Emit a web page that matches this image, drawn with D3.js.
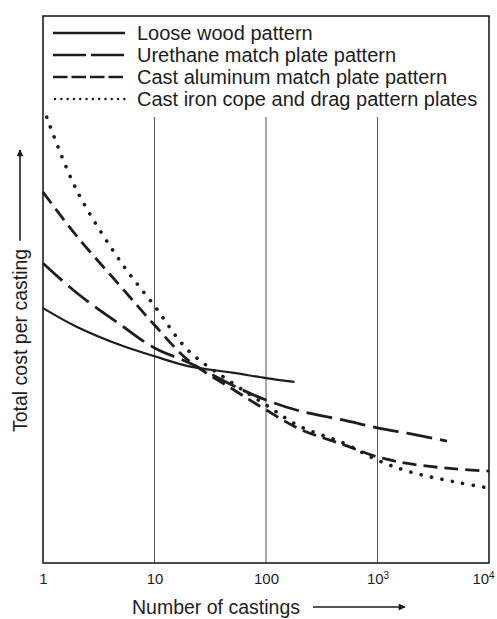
<!DOCTYPE html>
<html>
<head>
<meta charset="utf-8">
<script src="https://cdn.jsdelivr.net/npm/d3@7"></script>
<style>
  body { margin: 0; background: #fff; }
  svg { display: block; font-family: "Liberation Sans", Arial, Helvetica, sans-serif; }
</style>
</head>
<body>
<script>
// values (cost has no units on the original, 0-100 relative)
var counts = [1, 2, 5, 10, 20, 50, 100, 200, 500, 1000, 2000, 5000, 10000];
var woodN = [1, 2, 5, 10, 20, 50, 100, 180];
var woodCost = [46.6, 43.2, 39.8, 37.8, 36.0, 34.8, 33.8, 33.1];
var urethaneN = [1, 2, 5, 10, 20, 50, 100, 200, 500, 1000, 2000, 4200];
var urethaneCost = [54.8, 49.4, 43.5, 39.3, 36.7, 32.5, 29.8, 27.8, 26.1, 24.7, 23.6, 22.3];
var aluminumCost = [67.8, 59.8, 50.5, 43.5, 37.1, 31.8, 28.0, 24.5, 21.6, 19.4, 18.1, 17.2, 16.8];
var ironN = [1.08, 2, 5, 10, 20, 50, 100, 200, 500, 1000, 2000, 5000, 10000];
var ironCost = [81.5, 68.2, 55.0, 47.0, 38.9, 32.9, 28.9, 25.0, 21.9, 18.8, 16.6, 14.8, 13.7];

var legendLabels = [
  'Loose wood pattern',
  'Urethane match plate pattern',
  'Cast aluminum match plate pattern',
  'Cast iron cope and drag pattern plates'
];
var tickValues = [1, 10, 100, 1000, 10000];
var tickBase = ['1', '10', '100', '10', '10'];
var tickExp = ['', '', '', '3', '4'];
var gridValues = [10, 100, 1000];

var w = 497, h = 619;
// note: "top" is window.top, so plot edges get their own names
var plotL = 43, plotR = 489, plotT = 16, plotB = 563;
var ink = '#1d1d1d';

var x = d3.scaleLog().domain([1, 10000]).range([plotL, plotR]);
var y = d3.scaleLinear().domain([0, 100]).range([plotB, plotT]);

var svg = d3.select('body').append('svg')
  .attr('width', w)
  .attr('height', h);

// grid
svg.append('g')
  .selectAll('line')
  .data(gridValues)
  .enter().append('line')
  .attr('x1', function(d) { return x(d); })
  .attr('x2', function(d) { return x(d); })
  .attr('y1', 117)
  .attr('y2', plotB)
  .attr('stroke', '#555')
  .attr('stroke-width', 1);

// frame
svg.append('rect')
  .attr('x', plotL).attr('y', plotT)
  .attr('width', plotR - plotL).attr('height', plotB - plotT)
  .attr('fill', 'none')
  .attr('stroke', ink)
  .attr('stroke-width', 1.6);

var series = [
  {n: woodN, v: woodCost, dash: null, width: 2.2},
  {n: urethaneN, v: urethaneCost, dash: '26,8', width: 2.8},
  {n: counts, v: aluminumCost, dash: '14,7', width: 2.8},
  {n: ironN, v: ironCost, dash: '0.1,10.5', width: 3.6, cap: 'round'}
];

var line = d3.line()
  .x(function(d) { return x(d[0]); })
  .y(function(d) { return y(d[1]); })
  .curve(d3.curveCatmullRom.alpha(0.5));

svg.append('g')
  .selectAll('path')
  .data(series)
  .enter().append('path')
  .attr('d', function(s) { return line(d3.zip(s.n, s.v)); })
  .attr('fill', 'none')
  .attr('stroke', ink)
  .attr('stroke-width', function(s) { return s.width; })
  .attr('stroke-dasharray', function(s) { return s.dash; })
  .attr('stroke-linecap', function(s) { return s.cap || 'butt'; });

// legend
var legDash = [null, '33,5', '14.5,4', '0.1,6.2'];
var leg = svg.append('g')
  .selectAll('g')
  .data(legendLabels)
  .enter().append('g')
  .attr('transform', function(d, i) { return 'translate(0,' + (33 + i * 22) + ')'; });

leg.append('line')
  .attr('x1', function(d, i) { return i == 3 ? 55 : 53; })
  .attr('x2', 125)
  .attr('stroke', ink)
  .attr('stroke-width', function(d, i) { return i == 3 ? 2.4 : 2.6; })
  .attr('stroke-linecap', function(d, i) { return i == 3 ? 'round' : 'butt'; })
  .attr('stroke-dasharray', function(d, i) { return legDash[i]; });

leg.append('text')
  .attr('x', 137)
  .attr('dy', '0.36em')
  .attr('font-size', 20)
  .attr('fill', ink)
  .text(function(d) { return d; });

// x axis labels
var xAxis = svg.append('g')
  .attr('transform', 'translate(0,' + plotB + ')')
  .call(d3.axisBottom(x).tickValues(tickValues).tickSize(0).tickPadding(10).tickFormat(''));
xAxis.select('.domain').remove();
xAxis.attr('font-family', null);
xAxis.selectAll('.tick text').each(function(d, i) {
  var t = d3.select(this)
    .attr('font-size', 15)
    .attr('fill', ink)
    .attr('dx', i == 4 ? -6 : 0)
    .attr('text-anchor', 'middle');
  t.append('tspan').text(tickBase[i]);
  if (tickExp[i]) {
    t.append('tspan').attr('dy', '-0.5em').attr('font-size', 10).text(tickExp[i]);
  }
});

// x title with arrow
svg.append('defs').append('marker')
  .attr('id', 'arrow')
  .attr('viewBox', '0 0 10 10')
  .attr('refX', 9).attr('refY', 5)
  .attr('markerWidth', 10).attr('markerHeight', 7)
  .attr('markerUnits', 'userSpaceOnUse')
  .attr('orient', 'auto')
  .append('path')
  .attr('d', 'M0,0L10,5L0,10Z')
  .attr('fill', ink);

svg.append('text')
  .attr('x', 132)
  .attr('y', 607)
  .attr('dy', '0.36em')
  .attr('font-size', 19.5)
  .attr('fill', ink)
  .text('Number of castings');

svg.append('line')
  .attr('x1', 313).attr('x2', 405)
  .attr('y1', 607).attr('y2', 607)
  .attr('stroke', ink)
  .attr('stroke-width', 1.6)
  .attr('marker-end', 'url(#arrow)');

// y title with arrow
var yt = svg.append('g')
  .attr('transform', 'translate(20,432) rotate(-90)');
var ytext = yt.append('text')
  .attr('x', 0)
  .attr('dy', '0.36em')
  .attr('font-size', 19.5)
  .attr('fill', ink)
  .text('Total cost per casting');
var tl = ytext.node().getComputedTextLength();
yt.append('line')
  .attr('x1', tl + 8).attr('x2', 432 - 150)
  .attr('stroke', ink)
  .attr('stroke-width', 1.6)
  .attr('marker-end', 'url(#arrow)');
</script>
</body>
</html>
